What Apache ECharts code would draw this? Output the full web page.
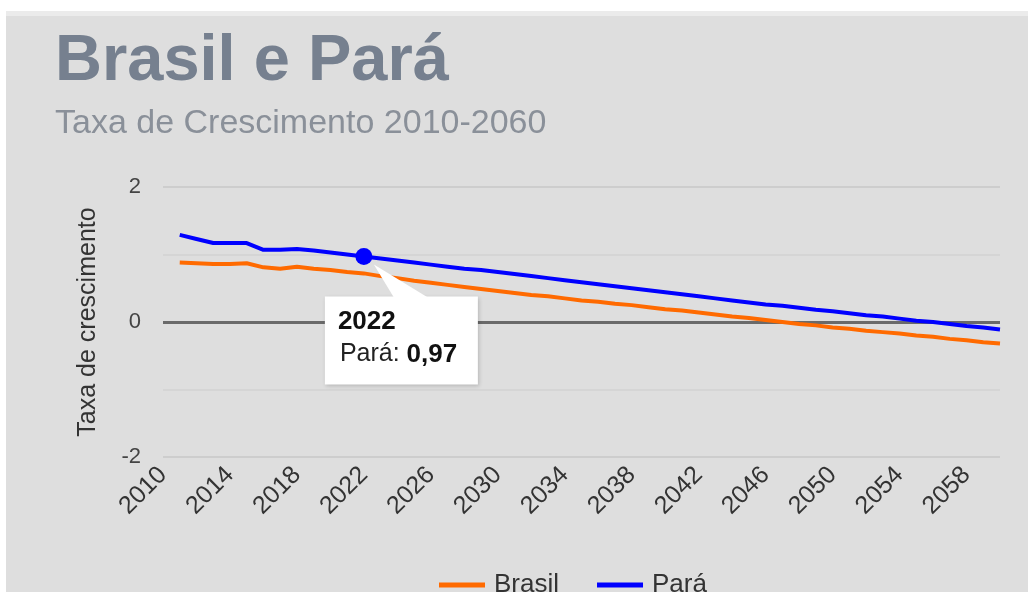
<!DOCTYPE html>
<html>
<head>
<meta charset="utf-8">
<script src="https://cdn.jsdelivr.net/npm/echarts@6/dist/echarts.min.js"></script>
<style>
html,body{margin:0;padding:0;background:#fff;}
#chart{position:absolute;left:0;top:0;width:1028px;height:592px;}
</style>
</head>
<body>
<div id="chart"></div>
<script>
const years = [];
for (let y = 2010; y <= 2060; y++) years.push(String(y));

const brasil = [null,
  0.88, 0.87, 0.86, 0.86, 0.87, 0.81, 0.79, 0.82, 0.79, 0.77, 0.74, 0.72,
  0.68, 0.65, 0.61, 0.58, 0.55, 0.52, 0.49, 0.46, 0.43, 0.40, 0.38, 0.35, 0.32,
  0.30, 0.27, 0.25, 0.22, 0.19, 0.17, 0.14, 0.11, 0.08, 0.06, 0.03, 0.00,
  -0.03, -0.05, -0.08, -0.10, -0.13, -0.15, -0.17, -0.20, -0.22, -0.25, -0.27, -0.30, -0.32];

const para = [null,
  1.29, 1.23, 1.17, 1.17, 1.17, 1.07, 1.07, 1.08, 1.06, 1.03, 1.00, 0.97,
  0.94, 0.91, 0.88, 0.85, 0.82, 0.79, 0.77, 0.74, 0.71, 0.68, 0.65, 0.62, 0.59,
  0.56, 0.53, 0.50, 0.47, 0.44, 0.41, 0.38, 0.35, 0.32, 0.29, 0.26, 0.24, 0.21,
  0.18, 0.16, 0.13, 0.10, 0.08, 0.05, 0.02, 0.00, -0.03, -0.06, -0.08, -0.11];

const titleText = 'Brasil e Pará';
const subtitleText = 'Taxa de Crescimento 2010-2060';
const yAxisName = 'Taxa de crescimento';
const seriesNames = ['Brasil', 'Pará'];
const highlightYear = '2022';
const FONT = '"Liberation Sans", Arial, sans-serif';

const chart = echarts.init(document.getElementById('chart'), null, {renderer: 'canvas'});
const hiIdx = years.indexOf(highlightYear);

chart.setOption({
  animation: false,
  backgroundColor: 'transparent',
  textStyle: {fontFamily: FONT},
  title: {
    text: titleText,
    subtext: subtitleText,
    left: 50, top: 25,
    itemGap: 12,
    textStyle: {fontFamily: FONT, fontSize: 65, fontWeight: 'bold', color: '#76808f'},
    subtextStyle: {fontFamily: FONT, fontSize: 34, color: '#8a9099'}
  },
  legend: {
    bottom: -11, left: 434,
    itemWidth: 46, itemHeight: 5, itemGap: 38,
    icon: 'rect',
    textStyle: {fontFamily: FONT, fontSize: 26, color: '#333', padding: [0, 0, 0, 4]},
    data: seriesNames
  },
  grid: {left: 163, right: 28, top: 187, bottom: 135, containLabel: false},
  xAxis: {
    type: 'category',
    data: years,
    boundaryGap: false,
    axisLine: {show: false},
    axisTick: {show: false},
    axisLabel: {
      interval: 3, rotate: 45, margin: 14,
      fontFamily: FONT, fontSize: 25, color: '#333'
    },
    splitLine: {show: false}
  },
  yAxis: {
    type: 'value',
    min: -2, max: 2, interval: 2,
    name: yAxisName,
    nameLocation: 'middle',
    nameGap: 62,
    nameTextStyle: {fontFamily: FONT, fontSize: 25, color: '#333'},
    axisLine: {show: false},
    axisTick: {show: false},
    minorTick: {show: false, splitNumber: 2},
    axisLabel: {margin: 22, fontFamily: FONT, fontSize: 22, color: '#444'},
    splitLine: {lineStyle: {color: '#cdcdcd', width: 2}},
    minorSplitLine: {show: true, lineStyle: {color: '#d5d5d5', width: 2}}
  },
  series: [
    {
      name: seriesNames[0], type: 'line', data: brasil,
      symbol: 'none', color: '#ff6a00',
      lineStyle: {width: 4, color: '#ff6a00'},
      z: 3,
      markLine: {
        silent: true, symbol: 'none',
        label: {show: false},
        lineStyle: {color: '#6a6a6a', width: 3, type: 'solid'},
        data: [{yAxis: 0}],
        z: 1
      }
    },
    {
      name: seriesNames[1], type: 'line', data: para,
      symbol: 'none', color: '#0000ff',
      lineStyle: {width: 4, color: '#0000ff'},
      z: 4,
      markPoint: {
        symbol: 'circle', symbolSize: 17,
        itemStyle: {color: '#0000ff'},
        label: {show: false},
        data: [{coord: [hiIdx, para[hiIdx]]}]
      }
    }
  ]
});

// background panel + tooltip annotation
const p = chart.convertToPixel({xAxisIndex: 0, yAxisIndex: 0}, [hiIdx, para[hiIdx]]);
const mx = p[0], my = p[1];
const boxX = mx - 39, boxY = my + 40, boxW = 153, boxH = 88;
const valStr = para[hiIdx].toFixed(2).replace('.', ',');

chart.setOption({
  graphic: [
    {type: 'rect', z: -10, silent: true, shape: {x: 6, y: 11, width: 1022, height: 581}, style: {fill: '#dedede'}},
    {type: 'rect', z: -9, silent: true, shape: {x: 6, y: 11, width: 1022, height: 5}, style: {fill: '#ebebeb'}},
    {type: 'rect', z: 100, silent: true,
      shape: {x: boxX, y: boxY, width: boxW, height: boxH},
      style: {fill: '#ffffff', shadowBlur: 4, shadowColor: 'rgba(0,0,0,0.18)', shadowOffsetX: 1, shadowOffsetY: 1}},
    {type: 'polygon', z: 101, silent: true,
      shape: {points: [[mx + 10, my + 8], [mx + 30, boxY + 1], [mx + 64, boxY + 1]]},
      style: {fill: '#ffffff'}},
    {type: 'text', z: 102, silent: true, left: boxX + 13, top: boxY + 12,
      style: {text: highlightYear, font: 'bold 26px ' + FONT, fill: '#111'}},
    {type: 'text', z: 102, silent: true, left: boxX + 15, top: boxY + 45,
      style: {
        text: '{n|' + seriesNames[1] + ': }{v|' + valStr + '}',
        rich: {
          n: {font: '25px ' + FONT, fill: '#222'},
          v: {font: 'bold 26px ' + FONT, fill: '#111'}
        }
      }}
  ]
});
</script>
</body>
</html>
